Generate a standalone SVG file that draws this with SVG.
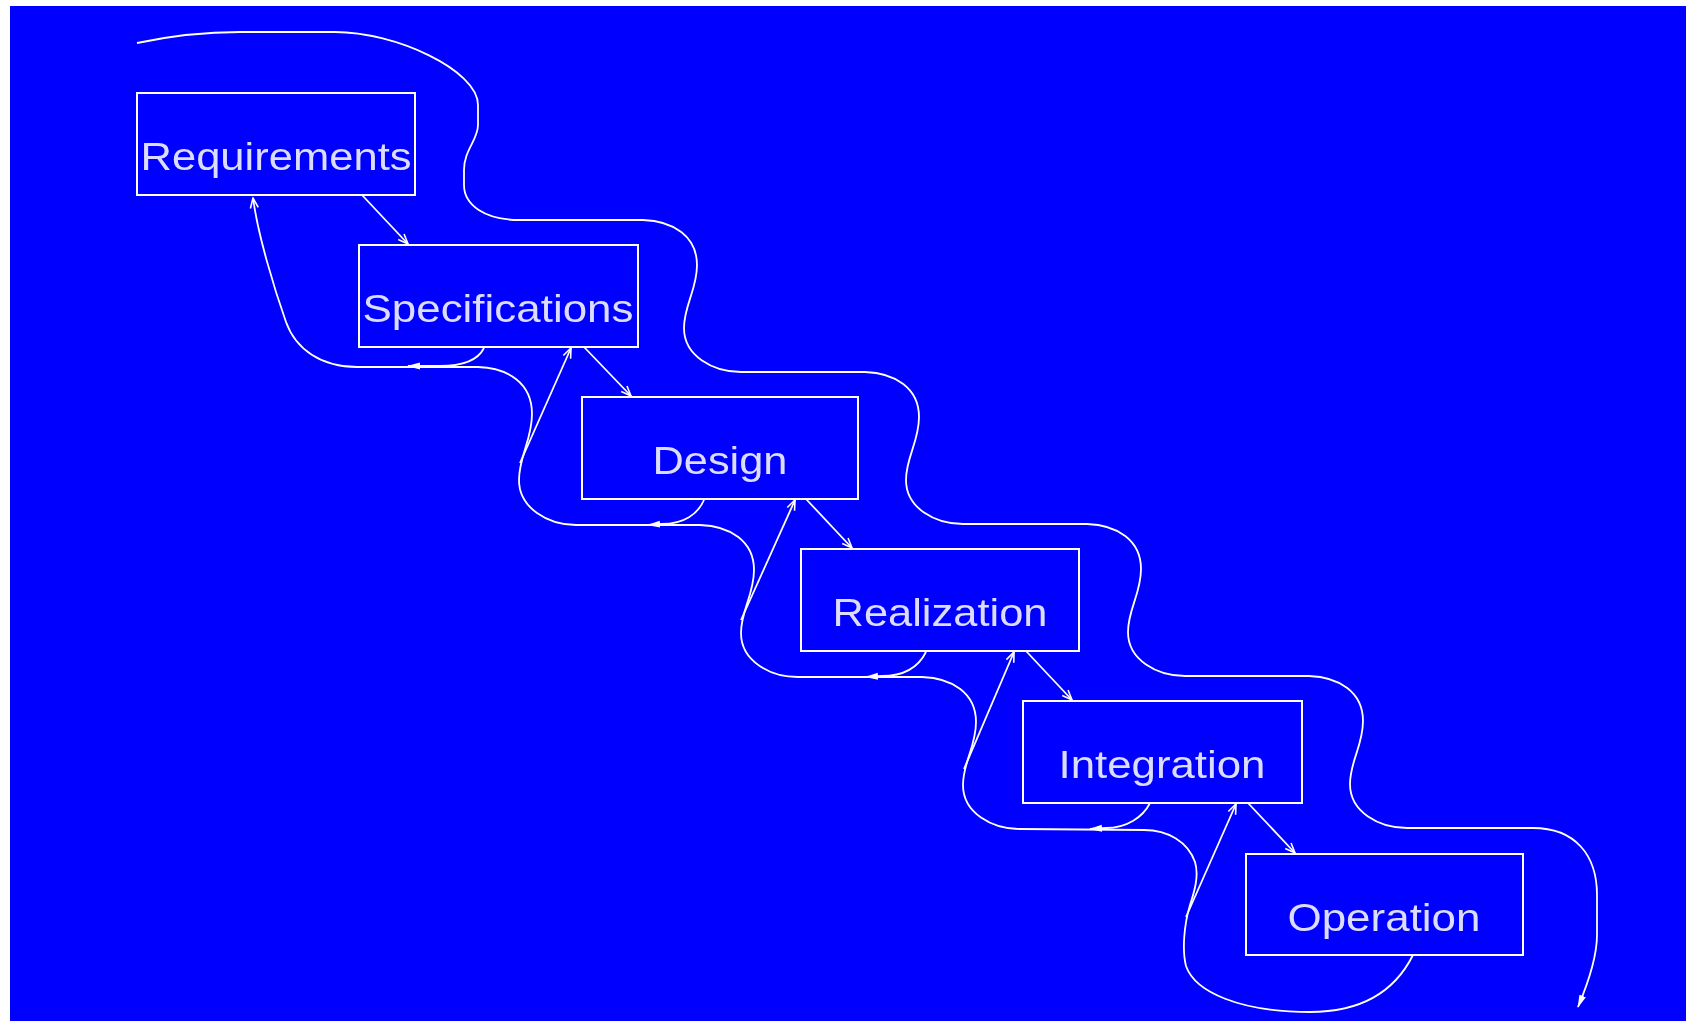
<svg xmlns="http://www.w3.org/2000/svg" width="1686" height="1026" viewBox="0 0 1686 1026">
  <defs>
    <style>
      .box rect { fill: none; stroke: #ffffff; stroke-width: 2; }
      .box text { font-family: "Liberation Sans", Arial, Helvetica, sans-serif; font-size: 39px; fill: #dcdcff; text-anchor: middle; filter: url(#soft); }
      .conn path, .conn line { fill: none; stroke: #ffffff; stroke-width: 1.8; stroke-linejoin: round; }
      .fwd { marker-end: url(#open); }
      .back { marker-end: url(#solid); }
    </style>
    <filter id="soft" x="-5%" y="-20%" width="110%" height="140%">
      <feGaussianBlur stdDeviation="0.55"/>
    </filter>
    <!-- open arrowhead for forward / upward connectors -->
    <marker id="open" viewBox="0 0 12 10" refX="11" refY="5" markerWidth="12" markerHeight="10" orient="auto" markerUnits="userSpaceOnUse">
      <path d="M1,1 L11,5 L1,9" fill="none" stroke="#ffffff" stroke-width="1.6"/>
    </marker>
    <!-- filled arrowhead for feedback connectors -->
    <marker id="solid" viewBox="0 0 13 8" refX="12" refY="4" markerWidth="13" markerHeight="8" orient="auto" markerUnits="userSpaceOnUse">
      <path d="M0,0.5 L13,4 L0,7.5 Z" fill="#ffffff"/>
    </marker>
  </defs>

  <!-- backdrop -->
  <rect x="0" y="0" width="1686" height="1026" fill="#ffffff"/>
  <rect x="10" y="6" width="1676" height="1015" fill="#0000ff"/>

  <g id="connectors" class="conn">
    <!-- overall flow line above the stages -->
    <path class="back" d="M137,43 C170,36 200,32 240,32 L335,32 C395,32 478,70 478,105 L478,125 C478,140 464,150 464,170 L464,185 C464,205 485,220 519,220
      h124 c30,1 54,16 54,45 c0,25 -13,40 -13,63 c0,28 29,44 57,44
      h124 c30,1 54,16 54,45 c0,25 -13,40 -13,63 c0,28 29,44 57,44
      h124 c30,1 54,16 54,45 c0,25 -13,40 -13,63 c0,28 29,44 57,44
      h124 c30,1 54,16 54,45 c0,25 -13,40 -13,63 c0,28 29,44 57,44
      h126 C1575,828 1597,855 1597,895 L1597,935 C1597,960 1586,988 1578,1007"/>

    <!-- feedback line below the stages, from Operation back to Requirements -->
    <path class="fwd" d="M1413,955 C1398,985 1370,1012 1310,1012 C1240,1012 1195,992 1186,966 C1182,950 1184,925 1190,905 C1195,890 1199,875 1195,862 C1188,842 1168,830 1144,830
      L1020,829 c-28,0 -57,-16 -57,-44 c0,-23 13,-38 13,-63 c0,-29 -24,-44 -54,-45
      L798,677 c-28,0 -57,-16 -57,-44 c0,-23 13,-38 13,-63 c0,-29 -24,-44 -54,-45
      L576,525 c-28,0 -57,-17 -57,-45 c0,-24 13,-40 13,-66 c0,-31 -24,-46 -54,-47
      L357,367 C322,367 296,350 286,322 C274,288 258,235 253,198"/>

    <!-- forward steps -->
    <line class="fwd" x1="362" y1="195" x2="408" y2="244"/>
    <line class="fwd" x1="584" y1="347" x2="631" y2="396"/>
    <line class="fwd" x1="806" y1="499" x2="852" y2="548"/>
    <line class="fwd" x1="1026" y1="651" x2="1072" y2="700"/>
    <line class="fwd" x1="1248" y1="803" x2="1295" y2="853"/>

    <!-- returns to the previous stage -->
    <line class="fwd" x1="520" y1="463" x2="571" y2="348"/>
    <line class="fwd" x1="741" y1="620" x2="795" y2="500"/>
    <line class="fwd" x1="964" y1="769" x2="1014" y2="652"/>
    <line class="fwd" x1="1186" y1="917" x2="1236" y2="804"/>

    <!-- feedback branches leaving each stage -->
    <path class="back" d="M484,348 C478,360 462,366 440,366 L408,366"/>
    <path class="back" d="M704,500 C698,514 684,524 662,524 L648,525"/>
    <path class="back" d="M926,652 C919,666 905,676 882,676 L866,677"/>
    <path class="back" d="M1150,803 C1143,817 1127,828 1106,828 L1090,829"/>
  </g>

  <g id="requirements" class="box">
    <rect x="137" y="93" width="278" height="102"/>
    <text x="276" y="170" textLength="271" lengthAdjust="spacingAndGlyphs">Requirements</text>
  </g>
  <g id="specifications" class="box">
    <rect x="359" y="245" width="279" height="102"/>
    <text x="498" y="322" textLength="271" lengthAdjust="spacingAndGlyphs">Specifications</text>
  </g>
  <g id="design" class="box">
    <rect x="582" y="397" width="276" height="102"/>
    <text x="720" y="474" textLength="135" lengthAdjust="spacingAndGlyphs">Design</text>
  </g>
  <g id="realization" class="box">
    <rect x="801" y="549" width="278" height="102"/>
    <text x="940" y="626" textLength="215" lengthAdjust="spacingAndGlyphs">Realization</text>
  </g>
  <g id="integration" class="box">
    <rect x="1023" y="701" width="279" height="102"/>
    <text x="1162" y="778" textLength="207" lengthAdjust="spacingAndGlyphs">Integration</text>
  </g>
  <g id="operation" class="box">
    <rect x="1246" y="854" width="277" height="101"/>
    <text x="1384" y="931" textLength="193" lengthAdjust="spacingAndGlyphs">Operation</text>
  </g>
</svg>
